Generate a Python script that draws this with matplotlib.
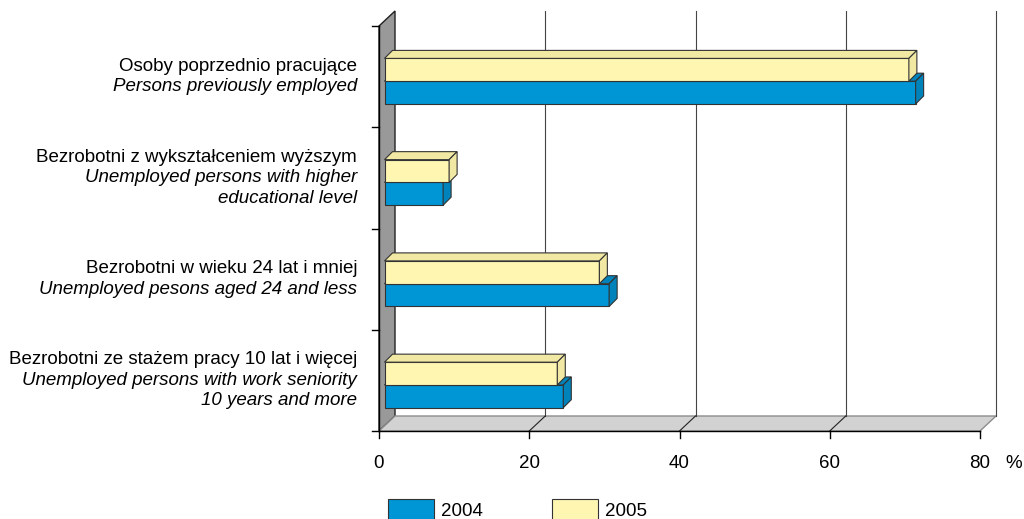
import matplotlib
matplotlib.use('Agg')
import matplotlib.pyplot as plt
from matplotlib.patches import Polygon, Rectangle
from matplotlib.transforms import offset_copy

plt.rcParams['font.family'] = ['Liberation Sans', 'DejaVu Sans']

# data (top to bottom, as in the picture)
labels_pl = ['Osoby poprzednio pracujące',
             'Bezrobotni z wykształceniem wyższym',
             'Bezrobotni w wieku 24 lat i mniej',
             'Bezrobotni ze stażem pracy 10 lat i więcej']
labels_en = [['Persons previously employed'],
             ['Unemployed persons with higher', 'educational level'],
             ['Unemployed pesons aged 24 and less'],
             ['Unemployed persons with work seniority', '10 years and more']]
years = ['2004', '2005']
share_2004 = [70.7, 7.8, 29.9, 23.8]
share_2005 = [69.8, 8.6, 28.6, 23.0]
x_ticks = [0, 20, 40, 60, 80]

# colours
blue, blue_dark = '#0096d6', '#0083bb'
yellow, yellow_dark = '#fff6b2', '#f1e8a4'
wall_col, floor_col = '#999999', '#d2d2d2'

W, H = 1024, 519
fig = plt.figure(figsize=(W / 100, H / 100), dpi=100)

# front plane of the 3D box in pixels
x0, x1, y0, y1 = 379, 980, 431, 26
ax = fig.add_axes([x0 / W, 1 - y0 / H, (x1 - x0) / W, (y0 - y1) / H])
ax.set_xlim(0, 80)
ax.set_ylim(0, 4)
ax.axis('off')
px = 80 / (x1 - x0)
py = 4 / (y0 - y1)
DX, DY = 16 * px, 15 * py

# left wall and floor
ax.add_patch(Polygon([(0, 0), (0, 4), (DX, 4 + DY), (DX, DY)], fc=wall_col,
                     ec='#222222', lw=1, clip_on=False, zorder=1))
ax.add_patch(Polygon([(0, 0), (80, 0), (80 + DX, DY), (DX, DY)], fc=floor_col,
                     ec='#8c8c8c', lw=1, clip_on=False, zorder=1))

# gridlines on back wall and floor
for v in x_ticks[1:]:
    ax.plot([v + DX, v + DX], [DY, 4 + DY], color='#444444', lw=0.8, clip_on=False, zorder=1)
    if v < 80:
        ax.plot([v, v + DX], [0, DY], color='#222222', lw=0.8, clip_on=False, zorder=1)

# axes lines and ticks
ax.plot([0, 80], [0, 0], color='black', lw=1, clip_on=False, zorder=2)
ax.plot([0, 0], [0, 4], color='black', lw=1, clip_on=False, zorder=2)
for v in x_ticks:
    ax.plot([v, v], [0, -7 * py], color='black', lw=1, clip_on=False, zorder=2)
    ax.text(v, 0, str(v), transform=offset_copy(ax.transData, fig, y=-32, units='dots'),
            ha='center', va='center', fontsize=13.5)
ax.text(80, 0, '%', transform=offset_copy(ax.transData, fig, x=34, y=-32, units='dots'),
        ha='center', va='center', fontsize=13.5)
for k in range(5):
    ax.plot([-7 * px, 0], [k, k], color='black', lw=1, clip_on=False, zorder=2)


def bar3d(x, y, w, h, face, dark):
    d, e = 8 * px, 8 * py
    kw = dict(ec='#333333', lw=0.8, clip_on=False, zorder=3)
    ax.add_patch(Rectangle((x, y), w, h, fc=face, **kw))
    ax.add_patch(Polygon([(x, y + h), (x + w, y + h), (x + w + d, y + h + e), (x + d, y + h + e)],
                         fc=dark, **kw))
    ax.add_patch(Polygon([(x + w, y), (x + w + d, y + e), (x + w + d, y + h + e), (x + w, y + h)],
                         fc=dark, **kw))


bx = 5.5 * px   # front face of bars sits a little inside the box
bh = 0.225
n = len(labels_pl)
for i in range(n):
    pos = n - 1 - i
    base = pos + 0.23
    bar3d(bx, base, share_2004[i], bh, blue, blue_dark)
    bar3d(bx, base + bh, share_2005[i], bh, yellow, yellow_dark)

    # category labels: Polish regular, English italic
    lines = [(labels_pl[i], 'normal')] + [(t, 'italic') for t in labels_en[i]]
    centre = pos + 0.5
    ls = 20.5 * py
    top = centre + (len(lines) - 1) / 2 * ls
    for k, (txt, style) in enumerate(lines):
        ax.text(0, top - k * ls, txt, style=style, fontsize=13.5, ha='right', va='center',
                transform=offset_copy(ax.transData, fig, x=-22, units='dots'))

# legend along the bottom edge
lax = fig.add_axes([0, 0, 1, 1])
lax.set_xlim(0, W)
lax.set_ylim(H, 0)
lax.axis('off')
lax.set_zorder(-1)
for xs, col, yr in zip([388, 552], [blue, yellow], years):
    lax.add_patch(Rectangle((xs, 499), 46, 24, fc=col, ec='#333333', lw=0.8))
    lax.text(xs + 53, 511, yr, fontsize=13.5, ha='left', va='center')

fig.savefig('out.png', dpi=100)
